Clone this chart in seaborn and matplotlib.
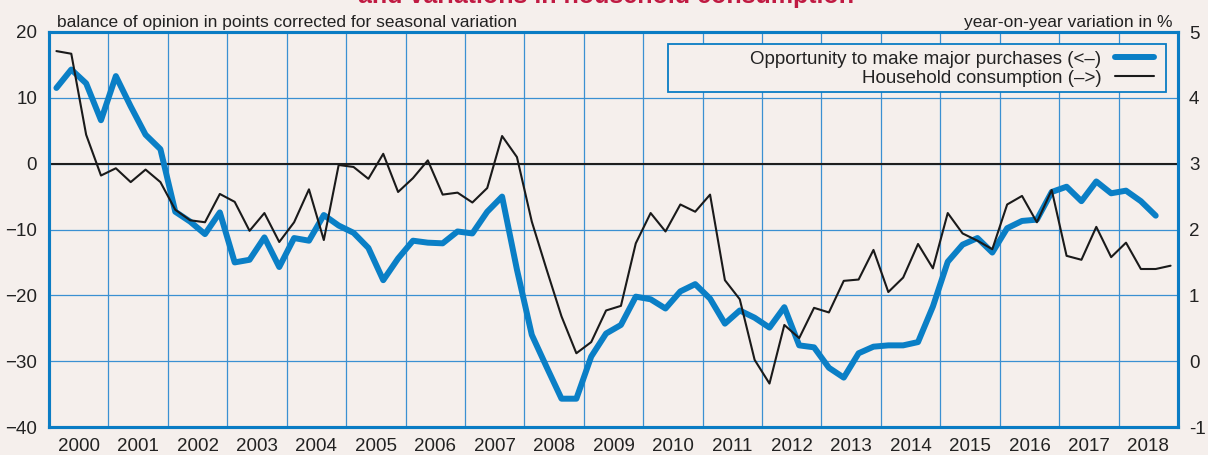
import numpy as np
import pandas as pd
import matplotlib
matplotlib.use("Agg")
import matplotlib.pyplot as plt
import seaborn as sns
from matplotlib.lines import Line2D
from matplotlib.patches import Rectangle

# ---------------- data ----------------
years = [str(y) for y in range(2000, 2019)]
series_blue_name = "Opportunity to make major purchases (<\u2013)"
series_black_name = "Household consumption (\u2013>)"

# quarterly, 2000Q1 .. 2018Q3 (left axis, balance of opinion)
purchases = [11.5, 14.3, 12.2, 6.6, 13.3, 8.7, 4.4, 2.2, -7.3, -8.8,
             -10.7, -7.4, -15.0, -14.6, -11.2, -15.7, -11.3, -11.7, -7.8, -9.4,
             -10.5, -12.8, -17.7, -14.4, -11.7, -12.0, -12.1, -10.3, -10.6, -7.3,
             -5.0, -16.1, -26.0, -30.9, -35.7, -35.7, -29.3, -25.8, -24.5, -20.2,
             -20.6, -22.0, -19.4, -18.3, -20.5, -24.3, -22.3, -23.4, -24.9, -21.8,
             -27.6, -27.9, -31.0, -32.5, -28.8, -27.8, -27.6, -27.6, -27.1, -21.7,
             -14.9, -12.3, -11.3, -13.5, -9.8, -8.7, -8.5, -4.3, -3.5, -5.7,
             -2.7, -4.5, -4.1, -5.7, -7.9]

# quarterly, 2000Q1 .. 2018Q4 (right axis, y-o-y %)
consumption = [4.71, 4.67, 3.44, 2.82, 2.93, 2.72, 2.91, 2.72, 2.30, 2.14,
               2.11, 2.54, 2.42, 1.98, 2.25, 1.81, 2.11, 2.61, 1.84, 2.98,
               2.95, 2.77, 3.15, 2.57, 2.78, 3.05, 2.53, 2.56, 2.41, 2.63,
               3.42, 3.10, 2.12, 1.39, 0.68, 0.12, 0.29, 0.77, 0.84, 1.79,
               2.25, 1.97, 2.38, 2.27, 2.53, 1.23, 0.94, 0.02, -0.34, 0.55,
               0.35, 0.81, 0.74, 1.22, 1.24, 1.69, 1.05, 1.27, 1.78, 1.41,
               2.25, 1.94, 1.83, 1.70, 2.38, 2.51, 2.11, 2.60, 1.60, 1.54,
               2.04, 1.58, 1.80, 1.40, 1.40, 1.45]

left_ticks = [-40, -30, -20, -10, 0, 10, 20]
right_ticks = [-1, 0, 1, 2, 3, 4, 5]
right_tick_labels = ["-1", "0", "1", "2", "3", "4", "5"]

t_blue = 2000 + (np.arange(len(purchases)) + 0.5) / 4
t_black = 2000 + (np.arange(len(consumption)) + 0.5) / 4
df_blue = pd.DataFrame({"t": t_blue, "v": purchases})
df_black = pd.DataFrame({"t": t_black, "v": consumption})

# ---------------- style ----------------
BG = "#f5efec"
BLUE = "#0a7fc6"
GRID = "#3a90d2"
SPINE = "#0a7cc4"
TXT = "#222222"
RED = "#c01a42"

sns.set_style("white")
plt.rcParams["font.family"] = ["Liberation Sans", "DejaVu Sans"]

W, H = 1208, 455
fig = plt.figure(figsize=(W / 100, H / 100), dpi=100, facecolor=BG)
L, R, T, B = 49, 1178, 32, 427
ax = fig.add_axes([L / W, 1 - B / H, (R - L) / W, (B - T) / H])
ax.set_facecolor(BG)

ax.set_xlim(2000, 2019)
ax.set_ylim(-40, 20)
ax.set_yticks(left_ticks)
ax.set_xticks(range(2000, 2020))
ax.set_xticklabels([])
ax.set_xticks(np.arange(2000.5, 2019, 1), minor=True)
ax.set_xticklabels(years, minor=True)
ax.tick_params(axis="x", which="both", length=0, pad=8, labelsize=13.5, labelcolor=TXT)
ax.tick_params(axis="y", length=0, pad=8.5, labelsize=13.5, labelcolor=TXT)
ax.set_axisbelow(True)
ax.grid(True, which="major", color=GRID, lw=0.9)
ax.axhline(0, color="#1e1e1e", lw=1.5, zorder=2)

sns.lineplot(data=df_blue, x="t", y="v", ax=ax, color=BLUE, lw=4.3,
             legend=False, zorder=3)
ax.set_xlabel("")
ax.set_ylabel("")

ax2 = ax.twinx()
ax2.set_ylim(-1, 5)
sns.lineplot(data=df_black, x="t", y="v", ax=ax2, color="#1a1a1a", lw=1.5,
             legend=False, zorder=3)
ax2.set_yticks(right_ticks)
ax2.set_yticklabels(right_tick_labels)
ax2.tick_params(axis="y", length=0, pad=8, labelsize=13.5, labelcolor=TXT)
ax2.set_ylabel("")
ax2.set_xlabel("")
ax2.grid(False)
ax2.set_xlim(2000, 2019)

for a in (ax, ax2):
    for s in a.spines.values():
        s.set_color(SPINE)
        s.set_linewidth(2.2)
        s.set_visible(True)

# legend box and legend
ax2.add_patch(Rectangle((668 / W, 1 - 92 / H), (1166 - 668) / W, 48 / H,
                        transform=fig.transFigure, facecolor=BG,
                        edgecolor=SPINE, lw=1.3, zorder=4, clip_on=False))
handles = [Line2D([], [], color=BLUE, lw=4.3),
           Line2D([], [], color="#1a1a1a", lw=1.5)]
leg = ax2.legend(handles, [series_blue_name, series_black_name],
                 loc="center right", bbox_to_anchor=(1154 / W, 1 - 68.5 / H),
                 bbox_transform=fig.transFigure, frameon=False,
                 markerfirst=False, fontsize=13.5, handlelength=2.1,
                 handletextpad=0.7, borderpad=0, borderaxespad=0,
                 labelspacing=0.1)
leg.set_zorder(6)
for tx in leg.get_texts():
    tx.set_color(TXT)

# header texts
fig.text(57 / W, 1 - 26.5 / H,
         "balance of opinion in points corrected for seasonal variation",
         ha="left", va="baseline", fontsize=12.5, color=TXT)
fig.text(1172 / W, 1 - 26.5 / H, "year-on-year variation in %",
         ha="right", va="baseline", fontsize=12.5, color=TXT)
fig.text(606 / W, 1 - 3 / H, "and variations in household consumption",
         ha="center", va="baseline", fontsize=18, fontweight="bold", color=RED)

fig.savefig("out.png", dpi=100, facecolor=BG)
